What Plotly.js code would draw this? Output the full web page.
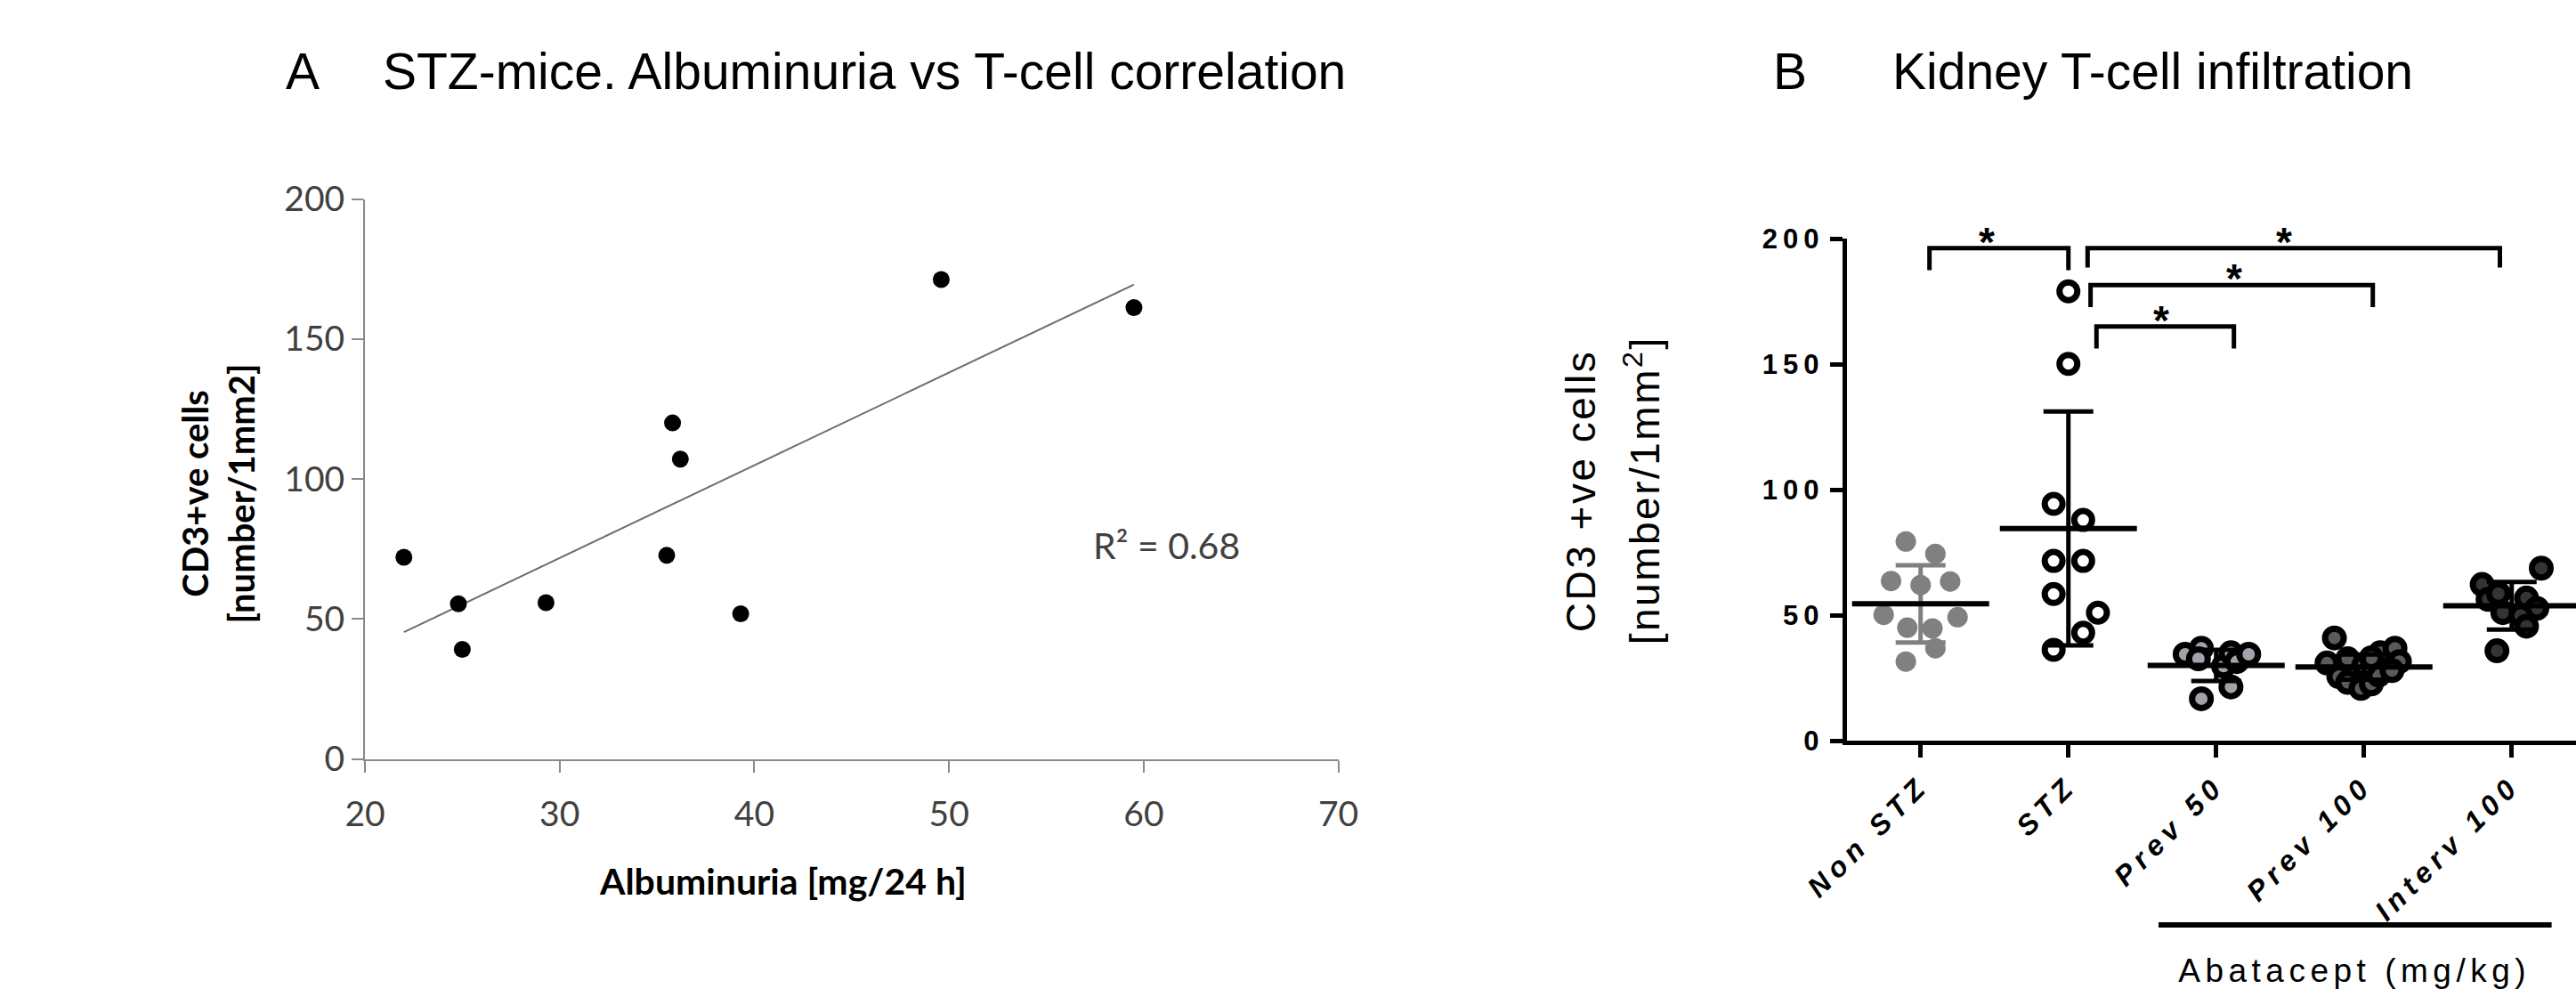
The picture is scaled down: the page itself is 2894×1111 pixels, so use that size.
<!DOCTYPE html>
<html><head><meta charset="utf-8">
<script src="https://cdn.plot.ly/plotly-3.0.1.min.js"></script>
<style>
html,body{margin:0;padding:0;background:#fff;}
#chart{width:2894px;height:1111px;}
.x2tick text{letter-spacing:6.5px;}
.y2tick text{letter-spacing:6px;}
</style></head><body><div id="chart"></div>
<script>
// ---------- Panel A: albuminuria vs CD3+ cells ----------
const albuminuria = [22.0, 24.8, 25.0, 29.3, 35.5, 35.8, 36.2, 39.3, 49.6, 59.5];
const cd3Cells    = [72.0, 55.4, 39.1, 55.8, 72.7, 120.0, 107.1, 51.8, 171.2, 161.2];
const r2Text = 'R² = 0.68';
const xTicksA = [20, 30, 40, 50, 60, 70];
const yTicksA = [0, 50, 100, 150, 200];

// ---------- Panel B: kidney T-cell infiltration ----------
const groups = ['Non STZ', 'STZ', 'Prev 50', 'Prev 100', 'Interv 100'];
const nonStz       = [79.3, 74.4, 63.6, 62.0, 63.4, 50.1, 49.2, 45.0, 44.7, 36.8, 31.5];
const nonStzJitter = [-0.10, 0.10, -0.20, 0.0, 0.20, -0.25, 0.25, -0.09, 0.08, 0.10, -0.10];
const stz          = [179.0, 150.1, 94.3, 87.9, 71.6, 71.6, 58.4, 51.0, 43.0, 36.2];
const stzJitter    = [0.0, 0.0, -0.10, 0.10, -0.10, 0.10, -0.10, 0.20, 0.10, -0.10];
const prev50       = [34.4, 36.8, 32.6, 29.7, 35.0, 31.5, 34.4, 21.4, 16.7];
const prev50Jitter = [-0.21, -0.10, -0.12, 0.05, 0.10, 0.14, 0.22, 0.10, -0.10];
const prev100      = [40.9, 30.9, 32.6, 35.0, 36.8, 31.5, 25.5, 23.2, 20.8, 22.6, 26.1, 27.9, 30.0, 33.0];
const prev100Jitter= [-0.20, -0.25, -0.11, 0.11, 0.21, 0.24, -0.17, -0.11, -0.02, 0.05, 0.10, 0.19, 0.0, 0.05];
const interv100    = [68.7, 62.2, 56.3, 58.6, 56.8, 52.7, 51.0, 49.8, 45.6, 35.8];
const interv100Jitter = [0.20, -0.20, -0.16, -0.09, 0.10, 0.17, -0.06, 0.06, 0.10, -0.10];
const groupMean = [54.5, 84.5, 30.0, 29.3, 53.7];
const groupSD   = [15.4, 46.6, 6.2, 5.0, 9.5];
const yTicksB = [0, 50, 100, 150, 200];
// significance brackets (category units / y values)
const bracketFrom   = [0.06, 1.13, 1.15, 1.19];
const bracketTo     = [1.00, 3.92, 3.06, 2.12];
const bracketTop    = [196.2, 196.2, 181.5, 165.0];
const bracketBottom = [187.4, 188.5, 172.7, 156.2];
const starX = [0.45, 2.46, 2.12, 1.63];
const starLabel = '*';

// ---------- helpers ----------
const W = 2894, H = 1111;
const px = x => x / W;
const py = y => 1 - y / H;

const traces = [];

// Panel A regression line
const n = albuminuria.length;
const mx = albuminuria.reduce((a, b) => a + b, 0) / n;
const my = cd3Cells.reduce((a, b) => a + b, 0) / n;
let sxy = 0, sxx = 0;
for (let i = 0; i < n; i++) { sxy += (albuminuria[i] - mx) * (cd3Cells[i] - my); sxx += (albuminuria[i] - mx) ** 2; }
const slope = sxy / sxx, icpt = my - slope * mx;
const fitX = [Math.min(...albuminuria), Math.max(...albuminuria)];
traces.push({type: 'scatter', mode: 'lines', x: fitX, y: fitX.map(v => icpt + slope * v),
  xaxis: 'x', yaxis: 'y', line: {color: '#6e6e6e', width: 2}, hoverinfo: 'skip'});
traces.push({type: 'scatter', mode: 'markers', x: albuminuria, y: cd3Cells,
  xaxis: 'x', yaxis: 'y', marker: {color: '#000', size: 19}, hoverinfo: 'skip'});

// Panel B groups
const groupValues = [nonStz, stz, prev50, prev100, interv100];
const groupJitter = [nonStzJitter, stzJitter, prev50Jitter, prev100Jitter, interv100Jitter];
const groupFill = ['#808080', '#ffffff', '#a2a2aa', '#5a5a5a', '#343434'];
const groupEdge = [0, 7, 7, 7, 7];
const groupSize = [23, 20, 21, 21, 21];
const sdColor = ['#808080', '#000', '#000', '#000', '#000'];

groupValues.forEach((vals, g) => {
  traces.push({type: 'scatter', mode: 'markers', xaxis: 'x2', yaxis: 'y2',
    x: vals.map((v, i) => g + groupJitter[g][i]), y: vals,
    marker: {color: groupFill[g], size: groupSize[g], line: {color: '#000', width: groupEdge[g]}},
    hoverinfo: 'skip'});
});
groupMean.forEach((m, g) => {
  traces.push({type: 'scatter', mode: 'markers', xaxis: 'x2', yaxis: 'y2',
    x: [g], y: [m],
    marker: {symbol: 'line-ew', size: 110, color: '#000', line: {color: '#000', width: 6}},
    error_y: {type: 'data', array: [groupSD[g]], visible: true, color: sdColor[g], thickness: 5, width: 28},
    hoverinfo: 'skip'});
});
bracketFrom.forEach((f, k) => {
  traces.push({type: 'scatter', mode: 'lines', xaxis: 'x2', yaxis: 'y2',
    x: [f, f, bracketTo[k], bracketTo[k]],
    y: [bracketBottom[k], bracketTop[k], bracketTop[k], bracketBottom[k]],
    line: {color: '#000', width: 5}, cliponaxis: false, hoverinfo: 'skip'});
});

const arial = 'Liberation Sans, Arial, sans-serif';
const lato = 'Lato, Carlito, Calibri, sans-serif';

const annotations = [];
const spacing = {};
function addAnn(a, ls) {
  a.showarrow = false;
  if (!a.xref) { a.xref = 'paper'; a.yref = 'paper'; }
  if (ls) spacing[annotations.length] = ls;
  annotations.push(a);
}
addAnn({text: 'A', x: px(319), y: py(46), xanchor: 'left', yanchor: 'top', font: {family: arial, size: 57, color: '#000'}});
addAnn({text: 'STZ-mice. Albuminuria vs T-cell correlation', x: px(428), y: py(46), xanchor: 'left', yanchor: 'top', font: {family: arial, size: 57, color: '#000'}});
addAnn({text: 'B', x: px(1989.5), y: py(46), xanchor: 'left', yanchor: 'top', font: {family: arial, size: 57, color: '#000'}});
addAnn({text: 'Kidney T-cell infiltration', x: px(2124), y: py(46), xanchor: 'left', yanchor: 'top', font: {family: arial, size: 57, color: '#000'}});
addAnn({text: 'CD3+ve cells<br>[number/1mm2]', x: px(244.5), y: py(555), xanchor: 'center', yanchor: 'middle', textangle: -90, font: {family: lato, size: 40, weight: 'bold', color: '#000'}});
addAnn({text: 'Albuminuria [mg/24 h]', x: px(880), y: py(989), xanchor: 'center', yanchor: 'middle', font: {family: lato, size: 41, weight: 'bold', color: '#000'}});
addAnn({text: r2Text, x: px(1310), y: py(612), xanchor: 'center', yanchor: 'middle', font: {family: lato, size: 41, color: '#404040'}});
addAnn({text: 'CD3 +ve cells', x: px(1776), y: py(552), xanchor: 'center', yanchor: 'middle', textangle: -90, font: {family: arial, size: 46, color: '#000'}}, '2.5px');
addAnn({text: '[number/1mm<sup>2</sup>]', x: px(1845), y: py(551), xanchor: 'center', yanchor: 'middle', textangle: -90, font: {family: arial, size: 46, color: '#000'}}, '2.5px');
addAnn({text: 'Abatacept (mg/kg)', x: px(2645), y: py(1068), xanchor: 'center', yanchor: 'top', font: {family: arial, size: 37, color: '#000'}}, '5.5px');
starX.forEach((sx, k) => {
  addAnn({text: starLabel, x: sx, y: bracketTop[k], xref: 'x2', yref: 'y2', xanchor: 'center', yanchor: 'middle',
    yshift: 7, font: {family: arial, size: 46, weight: 'bold', color: '#000'}});
});

const axA = {showline: true, linecolor: '#8a8a8a', linewidth: 2, ticks: 'outside', ticklen: 13, tickwidth: 2,
  tickcolor: '#8a8a8a', showgrid: false, zeroline: false, tickfont: {family: lato, size: 39, color: '#404040'}, fixedrange: true};
const axB = {showline: true, linecolor: '#000', linewidth: 5, ticks: 'outside', ticklen: 14, tickwidth: 5,
  tickcolor: '#000', showgrid: false, zeroline: false, fixedrange: true};

const layout = {
  width: W, height: H, margin: {l: 0, r: 0, t: 0, b: 0},
  paper_bgcolor: '#fff', plot_bgcolor: '#fff', showlegend: false,
  xaxis: Object.assign({}, axA, {domain: [px(410), px(1503.6)], range: [20, 70], tickmode: 'array', tickvals: xTicksA, anchor: 'y', ticklabelstandoff: 14}),
  yaxis: Object.assign({}, axA, {domain: [py(852.5), py(223.5)], range: [0, 200], tickmode: 'array', tickvals: yTicksA, anchor: 'x'}),
  xaxis2: Object.assign({}, axB, {domain: [px(2074.7), 1], range: [-0.5, 4.435], tickmode: 'array',
    tickvals: groups.map((g, i) => i), ticktext: groups, tickangle: -45,
    tickfont: {family: arial, size: 32, weight: 'bold', style: 'italic', color: '#000'}, anchor: 'y2'}),
  yaxis2: Object.assign({}, axB, {domain: [py(832), py(268)], range: [0, 200], tickmode: 'array', tickvals: yTicksB,
    tickfont: {family: arial, size: 31, weight: 'bold', color: '#000'}, anchor: 'x2'}),
  annotations: annotations,
  shapes: [{type: 'line', xref: 'x2', yref: 'paper', x0: 1.61, x1: 4.27, y0: py(1039), y1: py(1039), line: {color: '#000', width: 6}}]
};

Plotly.newPlot('chart', traces, layout, {staticPlot: true, displayModeBar: false}).then(() => {
  Object.keys(spacing).forEach(i => {
    const t = document.querySelector('.annotation[data-index="' + i + '"] .annotation-text');
    if (t) t.style.letterSpacing = spacing[i];
  });
});
</script></body></html>
